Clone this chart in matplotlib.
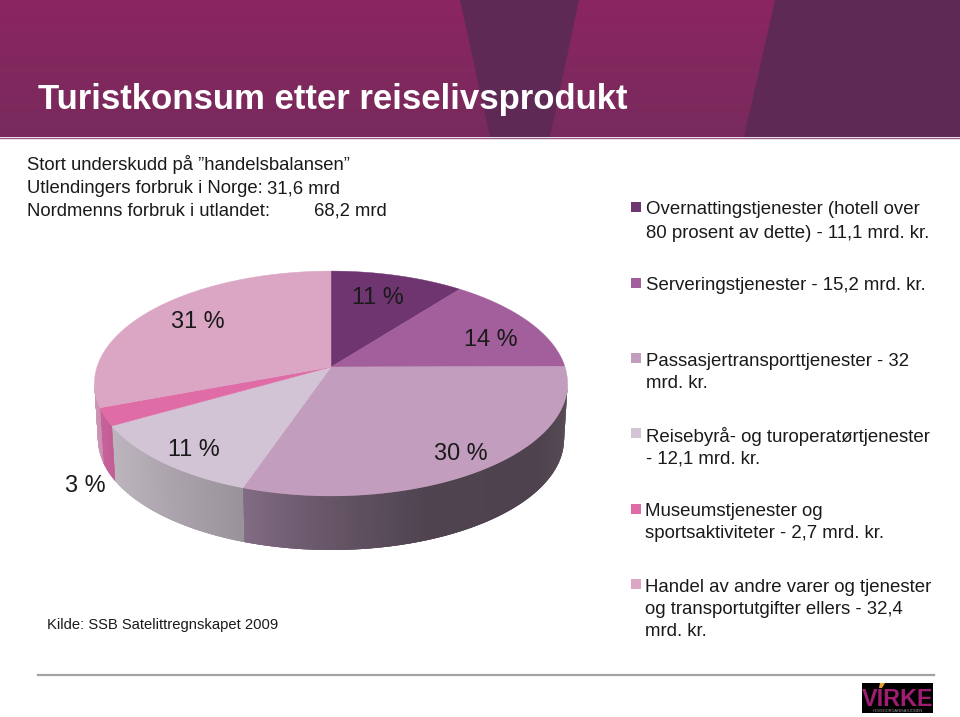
import numpy as np
import matplotlib
matplotlib.use("Agg")
import matplotlib.pyplot as plt
from matplotlib.colors import to_rgb

plt.rcParams['font.family'] = ['Liberation Sans', 'DejaVu Sans']

# ---- data ----
title = "Turistkonsum etter reiselivsprodukt"
intro = ["Stort underskudd på ”handelsbalansen”", "Utlendingers forbruk i Norge:", "Nordmenns forbruk i utlandet:"]
intro_values = ["31,6 mrd", "68,2 mrd"]
source = "Kilde: SSB Satelittregnskapet 2009"
values = [11.1, 15.2, 32.0, 12.1, 2.7, 32.4]
pct_labels = ["11 %", "14 %", "30 %", "11 %", "3 %", "31 %"]
legend_lines = [
    ["Overnattingstjenester (hotell over", "80 prosent av dette) - 11,1 mrd. kr."],
    ["Serveringstjenester - 15,2 mrd. kr."],
    ["Passasjertransporttjenester - 32", "mrd. kr."],
    ["Reisebyrå- og turoperatørtjenester", "- 12,1 mrd. kr."],
    ["Museumstjenester og", "sportsaktiviteter - 2,7 mrd. kr."],
    ["Handel av andre varer og tjenester", "og transportutgifter ellers - 32,4", "mrd. kr."],
]

# ---- styles / layout ----
top_colors = ["#6f3570", "#a35f9b", "#c29dbd", "#d2c3d5", "#df6ca6", "#dba6c4"]
wall_stops = {
    2: [(243, "#826c84"), (300, "#6e5c70"), (360, "#5f505f"), (430, "#4f4350"), (540, "#4e424e"), (568, "#574b56")],
    3: [(112, "#bdb5bd"), (170, "#aca4ac"), (243, "#99929a")],
    4: [(97, "#c9639c"), (115, "#bf5a92")],
    5: [(94, "#cf96b8"), (100, "#c98fb1")],
}
label_xy = [(378, 298), (491, 339), (461, 453), (194, 449), (85, 485), (198, 322)]
legend_y = [(210, 233), (286,), (361, 383), (436, 459), (512, 534), (587, 609, 631)]
legend_sq = [207, 283, 358, 433, 509, 584]
legend_x = [646, 646, 646, 646, 645, 645]
CX, CY, A, H, K = 331.0, 367.0, 234.0, 110.0, 0.1467
DEPTH, SCALE = 56.0, 0.985

fig = plt.figure(figsize=(9.6, 7.17), dpi=100, facecolor="white")
ax = fig.add_axes([0, 0, 1, 1])

# header
grad = np.linspace(0, 1, 137)[:, None, None]
c0, c1 = np.array(to_rgb("#8b2560")), np.array(to_rgb("#782b5c"))
ax.imshow(c0 + (c1 - c0) * grad, extent=(0, 960, 137, 0), aspect="auto", zorder=1)
ax.fill([460, 579, 550, 490], [0, 0, 137, 137], color="#5e2a55", lw=0, zorder=2)
ax.fill([775, 960, 960, 744], [0, 0, 137, 137], color="#5e2a55", lw=0, zorder=2)
ax.plot([0, 960], [137.5, 137.5], color="#9a5a85", lw=1, zorder=3)
ax.text(38, 100, title, color="white", fontsize=25.0, fontweight="bold", va="center", zorder=5)

# intro
for s, y in zip(intro, (164.5, 188.5, 211.5)):
    ax.text(27, y, s, fontsize=13.3, color="#1a1a1a", va="center")
for s, x, y in zip(intro_values, (267, 314), (188.5, 211.5)):
    ax.text(x, y, s, fontsize=13.3, color="#1a1a1a", va="center")


def rim(theta, dy=0.0, scale=1.0):
    x, y = np.sin(theta), np.cos(theta)
    d = 1 + K * y
    return CX + scale * A * x / d, CY + dy - scale * H * y / d


fr = np.cumsum([0] + values) / sum(values) * 2 * np.pi
t_r = np.arccos(-K)
t_l = 2 * np.pi - t_r

# side walls
for i, stops in wall_stops.items():
    a, b = max(fr[i], t_r), min(fr[i + 1], t_l)
    ts = np.linspace(a, b, 260)
    xs, ys = rim(ts)
    xb, yb = rim(ts, DEPTH, SCALE)
    sx = [p[0] for p in stops]
    sc = np.array([to_rgb(p[1]) for p in stops])
    for j in range(len(ts) - 1):
        e = min(j + 4, len(ts))
        xm = 0.5 * (xs[j] + xs[j + 1])
        col = [np.interp(xm, sx, sc[:, k]) for k in range(3)]
        ax.fill(np.r_[xs[j:e], xb[j:e][::-1]], np.r_[ys[j:e], yb[j:e][::-1]],
                color=col, lw=0, zorder=6)

# top faces
for i, col in enumerate(top_colors):
    ts = np.linspace(fr[i], fr[i + 1], 200)
    xs, ys = rim(ts)
    ax.fill(np.r_[CX, xs], np.r_[CY, ys], color=col, lw=0.3, zorder=7)

for s, (x, y) in zip(pct_labels, label_xy):
    ax.text(x, y, s, fontsize=16.9, color="#1a1a1a", ha="center", va="center", zorder=9)

# legend
for i, lines in enumerate(legend_lines):
    sy = legend_sq[i]
    ax.fill([631, 641, 641, 631], [sy - 5, sy - 5, sy + 5, sy + 5], color=top_colors[i], lw=0, zorder=5)
    for s, y in zip(lines, legend_y[i]):
        ax.text(legend_x[i], y, s, fontsize=13.4, color="#1a1a1a", va="center")

ax.text(47, 625, source, fontsize=10.6, color="#1a1a1a", va="center")

# footer rule and logo
ax.plot([38, 934], [675, 675], color="#a3a3a3", lw=1.6)
ax.fill([862, 933, 933, 862], [683, 683, 713, 713], color="black", lw=0, zorder=3)
ax.text(897.5, 699, "VIRKE", color="#a01e72", fontsize=16.8, fontweight="bold", ha="center", va="center", zorder=4)
ax.fill([880, 885, 882, 879], [683, 683, 688, 688], color="#e8a030", lw=0, zorder=5)
ax.text(897.5, 711, "HOVEDORGANISASJONEN", color="#999999", fontsize=2.8, ha="center", va="center", zorder=5)

ax.set_xlim(0, 960)
ax.set_ylim(717, 0)
ax.axis("off")
fig.savefig("out.png", dpi=100, facecolor="white")
